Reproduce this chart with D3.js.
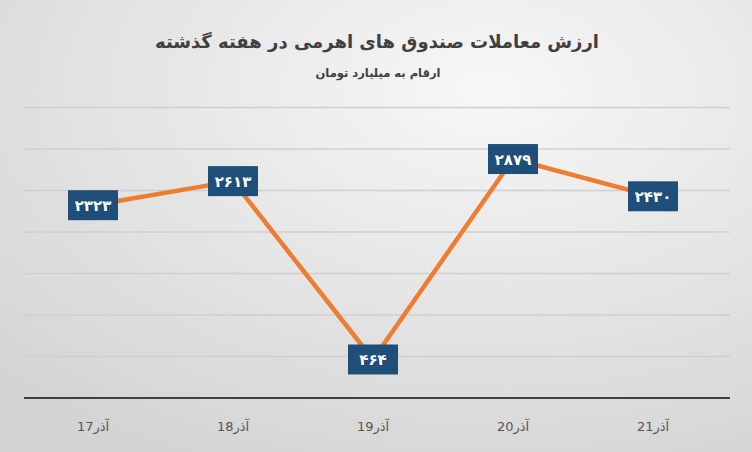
<!DOCTYPE html>
<html><head><meta charset="utf-8">
<script src="https://cdn.jsdelivr.net/npm/d3@7"></script>
<style>body{margin:0}svg{display:block}</style>
</head><body>
<svg width="752" height="452"></svg>
<script>
const days = ["17آذر", "18آذر", "19آذر", "20آذر", "21آذر"];
const values = [2323, 2613, 464, 2879, 2430];
const yTicks = [500, 1000, 1500, 2000, 2500, 3000, 3500];

const svg = d3.select("svg"),
    width = +svg.attr("width"),
    height = +svg.attr("height");

const defs = svg.append("defs");
const grad = defs.append("radialGradient").attr("id", "bg")
    .attr("cx", "0.65").attr("cy", "0.2").attr("r", "0.9");
grad.append("stop").attr("offset", "0").attr("stop-color", "#f7f7f7");
grad.append("stop").attr("offset", "1").attr("stop-color", "#d4d4d4");
svg.append("rect").attr("width", width).attr("height", height).attr("fill", "url(#bg)");

const fa = n => String(n).replace(/\d/g, d => "۰۱۲۳۴۵۶۷۸۹"[d]);

const x = d3.scalePoint().domain(days).range([23, 723]).padding(0.5);
const y = d3.scaleLinear().domain([0, 3500]).range([398, 107.5]);

// grid
svg.append("g").selectAll("line").data(yTicks).enter().append("line")
    .attr("x1", 24).attr("x2", 730)
    .attr("y1", d => y(d)).attr("y2", d => y(d))
    .attr("stroke", "#cfcfcf").attr("stroke-width", 1.3);
svg.append("line").attr("x1", 24).attr("x2", 730).attr("y1", y(0)).attr("y2", y(0))
    .attr("stroke", "#404040").attr("stroke-width", 2);

// x labels: number first, then month
const xl = svg.append("g").selectAll("text").data(days).enter().append("text")
    .attr("x", d => x(d)).attr("y", 431).attr("text-anchor", "middle")
    .attr("font-family", "DejaVu Sans").attr("font-size", 13).attr("fill", "#555");
xl.append("tspan").text(d => d.match(/\d+/)[0]);
xl.append("tspan").text(d => d.replace(/\d+/, ""));

// title
svg.append("text").attr("x", 377).attr("y", 48).attr("text-anchor", "middle")
    .attr("font-family", "DejaVu Sans").attr("font-weight", "bold").attr("font-size", 18)
    .attr("fill", "#404040").text("ارزش معاملات صندوق های اهرمی در هفته گذشته");
svg.append("text").attr("x", 378).attr("y", 77).attr("text-anchor", "middle")
    .attr("font-family", "DejaVu Sans").attr("font-weight", "bold").attr("font-size", 11.5)
    .attr("fill", "#404040").text("ارقام به میلیارد تومان");

// line
const line = d3.line().x((d, i) => x(days[i])).y(d => y(d));
svg.append("path").datum(values).attr("d", line)
    .attr("fill", "none").attr("stroke", "#ed7d31").attr("stroke-width", 4.5)
    .attr("stroke-linejoin", "round");
svg.append("g").selectAll("circle").data(values).enter().append("circle")
    .attr("cx", (d, i) => x(days[i])).attr("cy", d => y(d)).attr("r", 13)
    .attr("fill", "#ed7d31");

// labels
const lab = svg.append("g").selectAll("g").data(values).enter().append("g")
    .attr("transform", (d, i) => `translate(${x(days[i])},${y(d)})`);
lab.append("rect").attr("x", -25).attr("y", -15).attr("width", 50).attr("height", 30)
    .attr("fill", "#1f4e79");
lab.append("text").attr("y", 6).attr("text-anchor", "middle")
    .attr("font-family", "DejaVu Sans").attr("font-weight", "bold").attr("font-size", 15)
    .attr("fill", "#fff").text(d => fa(d));
</script>
</body></html>
